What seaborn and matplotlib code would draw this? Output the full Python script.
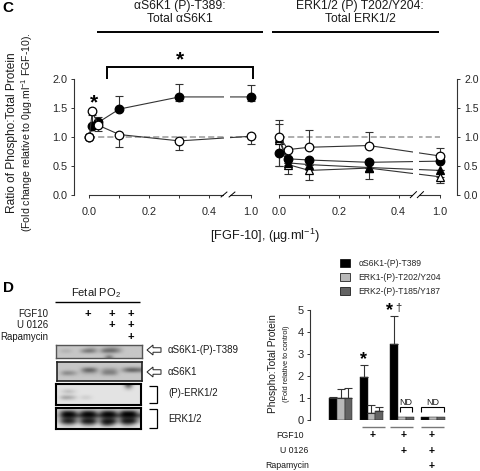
import numpy as np
import pandas as pd
import matplotlib
matplotlib.use('Agg')
import matplotlib.pyplot as plt
from matplotlib.patches import FancyArrow, Patch
import seaborn as sns

W, H = 480, 471

# panel C, left: aS6K1
conc_s6k = [0, 0.01, 0.03, 0.1, 0.3, 1.0]
s6k_filled = [1.0, 1.18, 1.25, 1.48, 1.69, 1.69]
s6k_filled_hi = [1.0, 1.37, 1.35, 1.71, 1.91, 1.90]
s6k_filled_lo = [1.0, 1.18, 1.25, 1.48, 1.62, 1.62]
s6k_open = [1.0, 1.44, 1.2, 1.04, 0.93, 1.01]
s6k_open_hi = [1.0, 1.44, 1.2, 1.04, 0.93, 1.01]
s6k_open_lo = [1.0, 1.44, 1.1, 0.82, 0.77, 0.87]

# panel C, right: ERK1/2
conc_erk = [0, 0.03, 0.1, 0.3, 1.0]
erk_open_circle = [1.0, 0.78, 0.82, 0.85, 0.67]
erk_open_circle_hi = [1.29, 0.78, 1.11, 1.08, 0.81]
erk_filled_circle = [0.72, 0.62, 0.60, 0.56, 0.58]
erk_filled_circle_lo = [0.49, 0.62, 0.60, 0.56, 0.58]
erk_filled_tri = [0.98, 0.55, 0.52, 0.47, 0.42]
erk_filled_tri_hi = [1.22, 0.55, 0.52, 0.47, 0.42]
erk_open_tri = [0.95, 0.52, 0.42, 0.46, 0.31]
erk_open_tri_lo = [0.5, 0.35, 0.26, 0.27, 0.21]

xticks_c = [0, 0.1, 0.2, 0.3, 0.4, 1.0]
xticklabels_c = ['0.0', '', '0.2', '', '0.4', '1.0']
yticks_c = [0, 0.5, 1.0, 1.5, 2.0]

# panel D bars
groups = ['Control', 'FGF10', 'FGF10+U0126', 'FGF10+U0126+Rapamycin']
bar_series = ['αS6K1-(P)-T389', 'ERK1-(P)-T202/Y204', 'ERK2-(P)-T185/Y187']
bar_s6k = [1.0, 1.97, 3.45, 0.14]
bar_erk1 = [1.0, 0.35, 0.14, 0.14]
bar_erk2 = [1.0, 0.42, 0.14, 0.14]
bar_s6k_hi = [1.07, 2.5, 4.73, np.nan]
bar_erk1_hi = [1.41, 0.68, np.nan, np.nan]
bar_erk2_hi = [1.46, 0.62, np.nan, np.nan]
bar_colors = ['#000000', '#b8b8b8', '#636363']

# western blots, grey level 0-9 per cell
blot_t389 = [
    [7, 7, 7, 7, 7, 7, 7, 7, 7, 7, 7, 7, 7, 7, 7, 7, 7],
    [7, 7, 7, 7, 7, 7, 6, 6, 7, 6, 5, 5, 6, 7, 7, 7, 7],
    [7, 6, 6, 7, 7, 4, 3, 4, 7, 3, 3, 3, 5, 7, 7, 7, 7],
    [7, 7, 7, 7, 7, 7, 7, 7, 7, 7, 7, 7, 7, 7, 7, 7, 7],
    [7, 7, 7, 7, 7, 7, 7, 7, 7, 7, 3, 7, 7, 7, 7, 7, 7],
]
blot_s6k = [
    [7, 7, 7, 7, 7, 7, 7, 7, 7, 7, 7, 7, 7, 7, 7, 7, 7],
    [7, 7, 7, 7, 7, 7, 7, 7, 7, 7, 7, 7, 7, 7, 7, 7, 7],
    [7, 7, 7, 7, 7, 3, 2, 3, 7, 5, 5, 5, 7, 4, 2, 2, 3],
    [7, 4, 4, 5, 7, 6, 6, 6, 7, 4, 4, 4, 7, 7, 7, 7, 7],
    [7, 7, 7, 7, 7, 7, 7, 7, 7, 7, 7, 7, 7, 7, 7, 7, 7],
    [7, 7, 7, 7, 7, 7, 7, 7, 7, 7, 7, 7, 7, 7, 7, 7, 7],
]
blot_perk = [
    [8, 8, 8, 8, 8, 8, 8, 8, 8, 8, 8, 8, 8, 8, 1, 8, 8],
    [8, 8, 8, 8, 8, 8, 8, 8, 8, 8, 8, 8, 8, 8, 6, 8, 8],
    [8, 7, 6, 7, 8, 8, 8, 8, 8, 8, 8, 8, 8, 8, 8, 8, 8],
    [8, 8, 8, 8, 8, 8, 8, 8, 8, 8, 8, 8, 8, 8, 8, 8, 8],
    [8, 5, 5, 6, 8, 7, 7, 8, 8, 8, 8, 8, 8, 8, 8, 8, 8],
    [8, 8, 8, 8, 8, 8, 8, 8, 8, 8, 8, 8, 8, 8, 8, 8, 8],
    [8, 8, 8, 8, 8, 8, 8, 8, 8, 8, 8, 8, 8, 8, 8, 8, 8],
]
blot_erk = [
    [7, 7, 7, 7, 7, 7, 7, 7, 7, 7, 7, 7, 7, 7, 7, 7, 7],
    [7, 1, 0, 1, 6, 1, 0, 1, 6, 1, 0, 1, 6, 0, 0, 0, 6],
    [6, 0, 0, 0, 2, 0, 0, 0, 2, 0, 0, 0, 2, 0, 0, 0, 2],
    [7, 3, 2, 3, 6, 3, 2, 3, 6, 3, 2, 3, 6, 2, 2, 2, 6],
    [7, 1, 0, 1, 6, 0, 0, 0, 6, 0, 0, 0, 6, 0, 0, 0, 6],
    [8, 6, 5, 6, 8, 5, 4, 5, 8, 3, 2, 5, 8, 5, 4, 6, 8],
    [8, 8, 8, 8, 8, 8, 8, 8, 8, 8, 8, 8, 8, 8, 8, 8, 8],
]

sns.set_style('ticks')
plt.rcParams['font.family'] = ['Liberation Sans', 'DejaVu Sans']
plt.rcParams['mathtext.default'] = 'regular'
plt.rcParams['axes.linewidth'] = 0.8
DARK = '#333333'


def px_axes(fig, left, top, right, bottom):
    return fig.add_axes([left / W, 1 - bottom / H, (right - left) / W, (bottom - top) / H])


def forward(x):
    x = np.asarray(x, dtype=float)
    return np.where(x <= 0.45, x, 0.45 + (x - 0.45) * 0.16)


def inverse(x):
    x = np.asarray(x, dtype=float)
    return np.where(x <= 0.45, x, 0.45 + (x - 0.45) / 0.16)


def draw_series(ax, x, y, lo, hi, marker, face, size=6.2):
    y = np.array(y)
    ax.errorbar(x, y, yerr=[y - np.array(lo), np.array(hi) - y], fmt='none', ecolor=DARK,
                elinewidth=0.8, capsize=2.6, capthick=0.8, zorder=4)
    sns.lineplot(x=x, y=y, ax=ax, color=DARK, lw=0.8, marker=marker, mfc=face, mec='black',
                 mew=0.9, ms=size, errorbar=None, zorder=5)


def style_c(ax, xlim):
    ax.set_xscale('function', functions=(forward, inverse))
    ax.set_xlim(*xlim)
    ax.set_ylim(0, 2)
    ax.set_xticks(xticks_c)
    ax.set_xticklabels(xticklabels_c, fontsize=7.8)
    ax.minorticks_off()
    ax.set_xlabel('')
    ax.set_ylabel('')
    ax.patch.set_alpha(0)
    ax.hlines(1.0, 0, 1.0, color='#999999', lw=1.1, linestyles=(0, (4, 2)), zorder=1)
    ax.tick_params(axis='both', length=2.5, width=0.7, color=DARK, labelsize=7.8, pad=6)
    ax.tick_params(axis='y', pad=2)
    ax.spines['bottom'].set_bounds(0, 1.0)
    ax.spines['bottom'].set_color(DARK)
    ax.spines['top'].set_visible(False)
    ax.set_yticks(yticks_c)
    ax.set_yticklabels(['0.0', '0.5', '1.0', '1.5', '2.0'])
    # gap in lines and axis at the break
    ax.axvspan(0.45, 0.575, ymin=-0.03, ymax=1, color='white', lw=0, zorder=6, clip_on=False)


fig = plt.figure(figsize=(W / 100, H / 100), dpi=100, facecolor='white')

# panel C left
ax1 = px_axes(fig, 74, 79, 258, 194.7)
draw_series(ax1, conc_s6k, s6k_filled, s6k_filled_lo, s6k_filled_hi, 'o', 'black')
draw_series(ax1, conc_s6k, s6k_open, s6k_open_lo, s6k_open_hi, 'o', 'white')
style_c(ax1, (-0.051, 1.15))
ax1.spines['right'].set_visible(False)
ax1.spines['left'].set_color(DARK)

# panel C right
ax2 = px_axes(fig, 265, 79, 456.7, 194.7)
draw_series(ax2, conc_erk, erk_open_tri, erk_open_tri_lo, erk_open_tri, '^', 'white', 6.4)
draw_series(ax2, conc_erk, erk_filled_tri, erk_filled_tri, erk_filled_tri_hi, '^', 'black', 6.4)
draw_series(ax2, conc_erk, erk_filled_circle, erk_filled_circle_lo, erk_filled_circle, 'o', 'black')
draw_series(ax2, conc_erk, erk_open_circle, erk_open_circle, erk_open_circle_hi, 'o', 'white')
style_c(ax2, (-0.048, 1.357))
ax2.yaxis.tick_right()
ax2.tick_params(axis='y', pad=2.8, labelsize=7.6)
ax2.spines['left'].set_visible(False)
ax2.spines['right'].set_visible(True)
ax2.spines['right'].set_color(DARK)

# panel D bars
bars = pd.DataFrame({
    'group': groups * 3,
    'series': np.repeat(bar_series, 4),
    'value': bar_s6k + bar_erk1 + bar_erk2,
})
ax3 = px_axes(fig, 310, 310.3, 447, 420.3)
sns.barplot(data=bars, x='group', y='value', hue='series', order=groups, hue_order=bar_series,
            palette=bar_colors, width=0.76, gap=0, saturation=1, edgecolor='#222222',
            linewidth=0.35, legend=False, ax=ax3)
for cont, tops in zip(ax3.containers, [bar_s6k_hi, bar_erk1_hi, bar_erk2_hi]):
    for bar, top in zip(cont, tops):
        if np.isnan(top):
            continue
        mid = bar.get_x() + bar.get_width() / 2
        val = bar.get_height()
        ax3.errorbar(mid, val, yerr=[[0], [top - val]], fmt='none', ecolor=DARK,
                     elinewidth=0.8, capsize=2.6, capthick=0.8)
ax3.set_xlim(-1.0, 3.46)
ax3.set_ylim(0, 5)
ax3.set_yticks([0, 1, 2, 3, 4, 5])
ax3.set_xticks([])
ax3.set_xlabel('')
ax3.set_ylabel('')
ax3.patch.set_alpha(0)
ax3.tick_params(axis='y', length=2.2, width=0.7, color=DARK, labelsize=8, pad=2)
sns.despine(ax=ax3, bottom=True)
ax3.spines['left'].set_color(DARK)
handles = [Patch(facecolor=c, edgecolor='black', lw=0.5, label=s) for c, s in zip(bar_colors, bar_series)]
fig.legend(handles=handles, loc='upper left', bbox_to_anchor=(332 / W, 1 - 251 / H), frameon=False,
           fontsize=6.2, handlelength=1.15, handleheight=1.15, labelspacing=0.55, handletextpad=1.0,
           borderpad=0.4)

# western blots
blot_boxes = [(56, 345, 141.7, 358.3), (57, 362.3, 142, 380.7), (56, 384.3, 141, 405), (56, 408.3, 141, 429.3)]
blot_edges = [(1.0, '#555555'), (1.2, '#222222'), (1.5, '#000000'), (1.5, '#000000')]
for box, blot, (edge_w, edge_c) in zip(blot_boxes, [blot_t389, blot_s6k, blot_perk, blot_erk], blot_edges):
    ax_b = px_axes(fig, *box)
    ax_b.imshow(np.array(blot) / 9, cmap='gray', vmin=0, vmax=1, aspect='auto', interpolation='bicubic')
    ax_b.set_xticks([])
    ax_b.set_yticks([])
    for sp in ax_b.spines.values():
        sp.set_linewidth(edge_w)
        sp.set_color(edge_c)

# overlay in reference pixels for annotations
ov = fig.add_axes([0, 0, 1, 1], zorder=10)
ov.set_xlim(0, W)
ov.set_ylim(H, 0)
ov.axis('off')


def label(x, y, s, size=7.3, ha='center', **kw):
    kw.setdefault('color', '#1a1a1a')
    ov.text(x, y, s, fontsize=size, ha=ha, va='center', **kw)


def seg(xs, ys, lw=0.8, color='black'):
    ov.plot(xs, ys, color=color, lw=lw, solid_capstyle='butt', solid_joinstyle='miter')


label(8, 8, 'C', 11, weight='bold', color='black')
label(8, 288, 'D', 11, weight='bold', color='black')
label(180, 6, 'αS6K1 (P)-T389:', 8.7)
label(180, 19, 'Total αS6K1', 8.7)
label(360, 6, 'ERK1/2 (P) T202/Y204:', 8.7)
label(360, 19, 'Total ERK1/2', 8.7)
seg([96.7, 263.3], [32.3, 32.3], 1.4)
seg([272.3, 439.3], [32.3, 32.3], 1.4)
seg([107.3, 107.3, 253.3, 253.3], [79.3, 66.7, 66.7, 79.3], 1.4)
label(179.5, 60, '*', 15, weight='bold', color='black')
label(94, 103, '*', 15, weight='bold', color='black')
label(12, 132.5, 'Ratio of Phospho:Total Protein', 8.6, rotation=90)
label(27.5, 132.5, '(Fold change relative to 0µg.ml$^{-1}$ FGF-10).', 7.6, rotation=90)
label(265, 236, '[FGF-10], (µg.ml$^{-1}$)', 9.2)
for x0 in (220.7, 228.7):
    seg([x0, x0 + 6.6], [197.3, 191.7], 0.7)
for x0 in (410, 417):
    seg([x0, x0 + 6.8], [198, 191.3], 0.7)

label(96, 293, 'Fetal PO$_2$', 8)
seg([55, 140], [302, 302], 1.0)
for y, s in [(314, 'FGF10'), (325, 'U 0126'), (337, 'Rapamycin')]:
    label(48, y, s, 6.9, ha='right')
for x, y in [(88, 314), (112, 314), (131, 314), (112, 325), (131, 325), (131, 337)]:
    label(x, y, '+', 8, weight='bold', color='black')
for y in (350, 372):
    ov.add_patch(FancyArrow(161, y, -14, 0, width=4.5, head_width=10, head_length=6,
                            length_includes_head=True, facecolor='white', edgecolor='#222222', lw=0.7))
for y, s in [(350, 'αS6K1-(P)-T389'), (372, 'αS6K1'), (392.7, '(P)-ERK1/2'), (419, 'ERK1/2')]:
    label(168, y, s, 7, ha='left')
for y0, y1 in [(386, 403), (409, 428)]:
    seg([149, 157, 157, 149], [y0, y0, y1, y1], 0.9)

label(272.7, 364, 'Phospho:Total Protein', 7.3, rotation=90)
label(286, 364, '(Fold relative to control)', 5.3, rotation=90)
for x0, x1 in [(361.7, 385), (390, 413), (420.7, 444)]:
    seg([x0, x1], [426.7, 426.7], 1.0, '#777777')
for y, right, s in [(435, 304, 'FGF10'), (450.7, 308, 'U 0126'), (466, 309, 'Rapamycin')]:
    label(right, y, s, 6.3, ha='right')
for x, y in [(372.3, 435), (403.3, 435), (431.7, 435), (403.3, 451), (431.7, 451), (431.7, 466)]:
    label(x, y, '+', 7.5, weight='bold', color='black')
label(405.7, 402.7, 'ND', 6.5)
label(432.3, 402.7, 'ND', 6.5)
seg([400, 400, 411.7, 411.7], [412, 407.3, 407.3, 412], 0.8)
seg([421, 421, 444, 444], [412, 407.3, 407.3, 412], 0.8)
label(363, 360, '*', 13, weight='bold', color='black')
label(389.3, 311, '*', 13, weight='bold', color='black')
label(398.3, 308, '†', 8)

fig.savefig('out.png', dpi=100)
